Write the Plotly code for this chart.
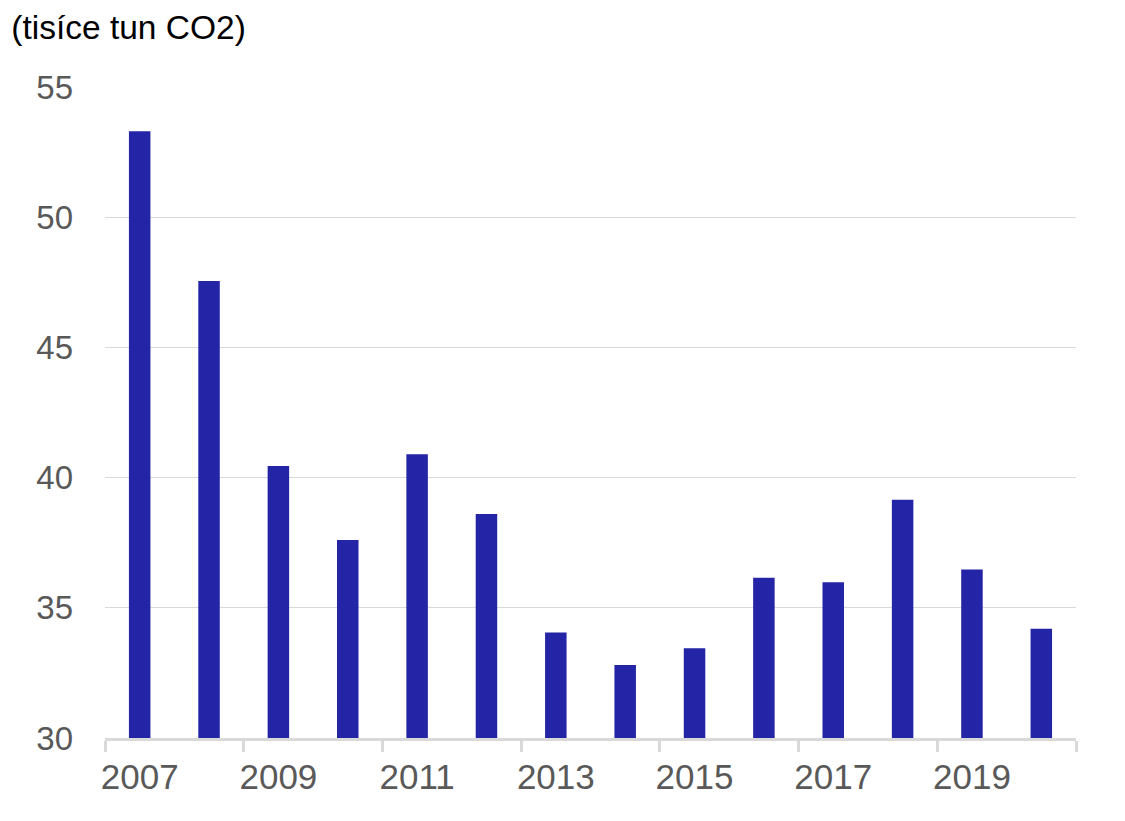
import plotly.graph_objects as go

years = [2007, 2008, 2009, 2010, 2011, 2012, 2013, 2014, 2015, 2016, 2017, 2018, 2019, 2020]
values = [53.3, 47.55, 40.45, 37.6, 40.9, 38.6, 34.05, 32.8, 33.45, 36.15, 35.98, 39.15, 36.47, 34.2]
tick_years = [2007, 2009, 2011, 2013, 2015, 2017, 2019]
y_ticks = [30, 35, 40, 45, 50, 55]
title_text = "(tisíce tun CO2)"

FONT = "Liberation Sans, Arial, sans-serif"

fig = go.Figure(
    go.Bar(
        x=years,
        y=values,
        marker=dict(color="#2424A6", line=dict(width=0)),
        width=0.31,
    )
)

fig.update_layout(
    width=1125,
    height=821,
    margin=dict(l=105, r=49, t=87, b=83),
    paper_bgcolor="white",
    plot_bgcolor="white",
    showlegend=False,
    font=dict(family=FONT, color="#595959", size=33),
    title=dict(
        text=title_text,
        font=dict(family=FONT, color="#000000", size=33.5),
        xref="container",
        yref="container",
        x=0.010,
        xanchor="left",
        y=0.981,
        yanchor="top",
    ),
    xaxis=dict(
        range=[2006.5, 2020.5],
        tickvals=tick_years,
        ticktext=[str(t) for t in tick_years],
        ticks="",
        showgrid=False,
        zeroline=False,
        showline=True,
        linecolor="#d9d9d9",
        linewidth=3,
        ticklabelstandoff=6,
        tickfont=dict(family=FONT, color="#595959", size=35),
        minor=dict(
            ticks="outside",
            tick0=2006.5,
            dtick=2,
            ticklen=11,
            tickwidth=3,
            tickcolor="#d9d9d9",
            showgrid=False,
        ),
    ),
    yaxis=dict(
        range=[30, 55],
        tickvals=y_ticks,
        ticks="",
        showgrid=True,
        gridcolor="#d9d9d9",
        gridwidth=1,
        zeroline=False,
        showline=False,
        ticklabelstandoff=31,
        tickfont=dict(family=FONT, color="#595959", size=33),
    ),
)

fig.write_html(
    "out.html",
    config={"displayModeBar": False},
    post_script="document.body.style.margin='0';document.body.style.padding='0';",
)
